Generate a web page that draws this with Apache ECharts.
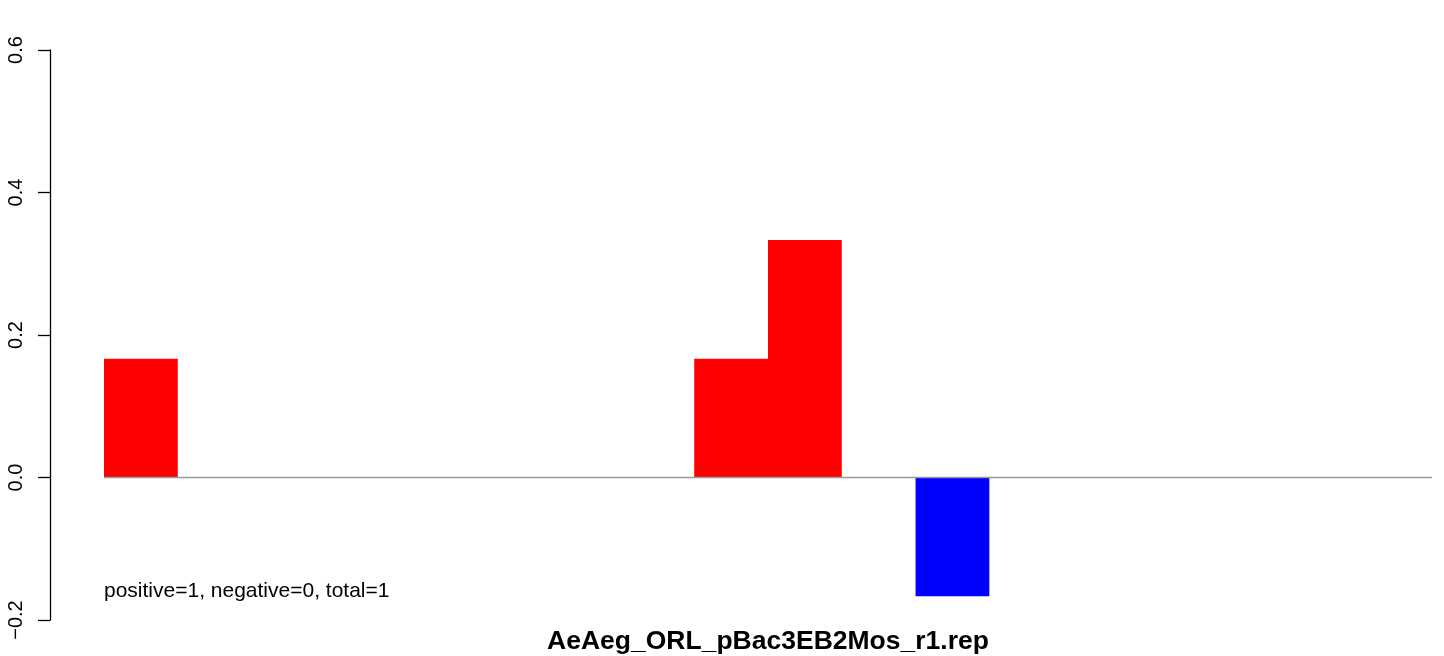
<!DOCTYPE html>
<html>
<head>
<meta charset="utf-8">
<script src="https://cdn.jsdelivr.net/npm/echarts@6/dist/echarts.min.js"></script>
<style>html,body{margin:0;padding:0;background:#fff;}#c{width:1444px;height:656px;}</style>
</head>
<body>
<div id="c"></div>
<script>
const categories = ['1','2','3','4','5','6','7','8','9','10','11','12','13','14','15','16','17','18'];
const values = [0.1667, 0, 0, 0, 0, 0, 0, 0, 0.1667, 0.3333, 0, -0.1667, 0, 0, 0, 0, 0, 0];
const yTicks = [-0.2, 0.0, 0.2, 0.4, 0.6];
const chartTitle = 'AeAeg_ORL_pBac3EB2Mos_r1.rep';
const noteText = 'positive=1, negative=0, total=1';

const chart = echarts.init(document.getElementById('c'), null, {renderer: 'canvas'});
const FONT = 'Liberation Sans, Arial, Helvetica, sans-serif';
chart.setOption({
  animation: false,
  backgroundColor: '#ffffff',
  title: [{
    text: noteText,
    left: 104, top: 581,
    padding: 0,
    textStyle: {fontFamily: FONT, fontSize: 21, fontWeight: 'normal', color: '#000'}
  }],
  grid: {left: 104, right: 12, top: 50, bottom: 36, containLabel: false, outerBoundsMode: 'none'},
  xAxis: {
    type: 'category',
    data: categories,
    boundaryGap: true,
    axisLine: {show: false, onZero: false},
    axisTick: {show: false},
    axisLabel: {show: false},
    splitLine: {show: false},
    name: chartTitle,
    nameLocation: 'middle',
    nameGap: 8,
    nameTextStyle: {fontFamily: FONT, fontSize: 26.5, fontWeight: 'bold', color: '#000'}
  },
  yAxis: {
    type: 'value',
    min: yTicks[0],
    max: yTicks[yTicks.length - 1],
    interval: 0.2,
    offset: 54,
    axisLine: {show: true, lineStyle: {color: '#000', width: 1.3}},
    axisTick: {show: true, length: 12, lineStyle: {color: '#000', width: 1.3}},
    splitLine: {show: false},
    axisLabel: {
      rotate: 90,
      margin: 24,
      fontFamily: FONT,
      fontSize: 20,
      color: '#000',
      formatter: function (v) {
        const s = v.toFixed(1);
        return s.charAt(0) === '-' ? '\u2212' + s.slice(1) : s;
      }
    }
  },
  series: [{
    type: 'bar',
    data: values.map(v => ({value: v, itemStyle: {color: v >= 0 ? '#ff0000' : '#0000ff'}})),
    barWidth: '100%',
    barCategoryGap: 0,
    markLine: {
      silent: true,
      symbol: ['none', 'none'],
      label: {show: false},
      lineStyle: {color: '#999999', width: 1.3, type: 'solid'},
      data: [{yAxis: 0}]
    }
  }]
});
</script>
</body>
</html>
